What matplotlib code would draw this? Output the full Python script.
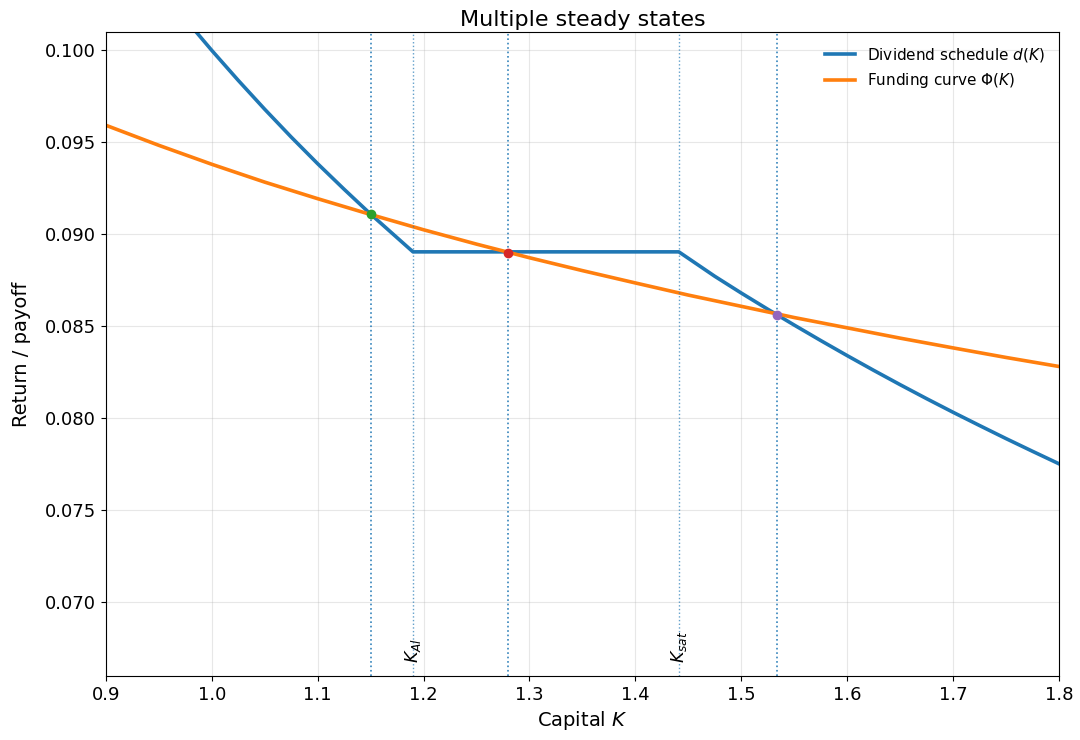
import numpy as np
import matplotlib
matplotlib.use("Agg")
import matplotlib.pyplot as plt

# Dividend schedule d(K) (kinks at K_Al and K_sat)
k_div = [0.90, 0.925, 0.95, 0.975, 1.00, 1.025, 1.05, 1.075, 1.10, 1.125, 1.15, 1.19,
         1.441, 1.475, 1.50, 1.525, 1.55, 1.575, 1.60, 1.625, 1.65, 1.675, 1.70, 1.725,
         1.75, 1.775, 1.80]
d_div = [0.10728, 0.10534, 0.10348, 0.10170, 0.10000, 0.09837, 0.09680, 0.09529, 0.09384,
         0.09245, 0.09110, 0.08905,
         0.08905, 0.08772, 0.08681, 0.08593, 0.08507, 0.08423, 0.08341, 0.08261, 0.08183,
         0.08107, 0.08033, 0.07961, 0.07890, 0.07821, 0.07753]

# Funding curve Phi(K)
k_fund = [0.90, 0.95, 1.00, 1.05, 1.10, 1.15, 1.20, 1.25, 1.30, 1.35,
          1.40, 1.45, 1.50, 1.55, 1.60, 1.65, 1.70, 1.75, 1.80]
phi_fund = [0.09593, 0.09484, 0.09381, 0.09284, 0.09194, 0.09108, 0.09025, 0.08947, 0.08873, 0.08803,
            0.08736, 0.08670, 0.08609, 0.08548, 0.08492, 0.08436, 0.08383, 0.08331, 0.08282]

# steady states and thresholds
k_eq = [1.150, 1.280, 1.534]
r_eq = [0.0911, 0.0890, 0.0856]
eq_colors = ["tab:green", "tab:red", "tab:purple"]
k_thr = [1.19, 1.441]
thr_labels = [r"$K_{Al}$", r"$K_{sat}$"]

fig = plt.figure(figsize=(10.8, 7.4), dpi=100)
ax = fig.add_axes([0.098, 0.0865, 0.8826, 0.8703])

ax.plot(k_div, d_div, color="tab:blue", lw=2.6, label=r"Dividend schedule $d(K)$")
ax.plot(k_fund, phi_fund, color="tab:orange", lw=2.6, label=r"Funding curve $\Phi(K)$")

for k in k_eq:
    ax.axvline(k, color="tab:blue", ls=":", lw=1.2, alpha=0.9)
for k, lab in zip(k_thr, thr_labels):
    ax.axvline(k, color="tab:blue", ls=":", lw=1.0, alpha=0.7)
    ax.text(k, 0.0667, lab, rotation=90, ha="center", va="bottom", fontsize=12.5)

for k, r, c in zip(k_eq, r_eq, eq_colors):
    ax.plot(k, r, "o", color=c, ms=6, zorder=5)

ax.set_xlim(0.9, 1.8)
ax.set_ylim(0.066, 0.101)
ax.set_xticks(np.arange(0.9, 1.81, 0.1))
ax.set_yticks([0.070, 0.075, 0.080, 0.085, 0.090, 0.095, 0.100])
ax.grid(True, alpha=0.3)
ax.tick_params(labelsize=13)
ax.set_xlabel(r"Capital $K$", fontsize=14)
ax.set_ylabel("Return / payoff", fontsize=14, labelpad=10)
ax.set_title("Multiple steady states", fontsize=16, pad=4)
ax.legend(loc="upper right", frameon=False, fontsize=11)

fig.savefig("out.png", dpi=100)
